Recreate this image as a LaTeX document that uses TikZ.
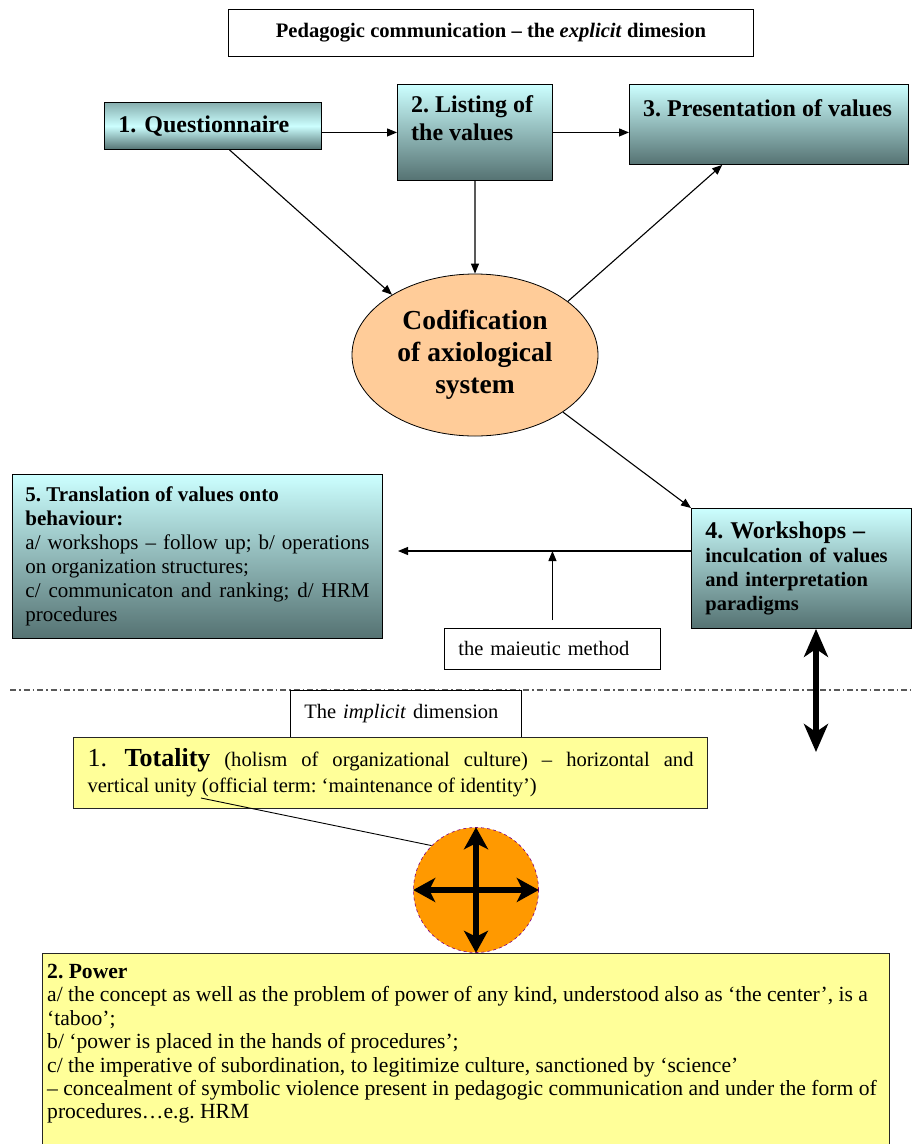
\documentclass[tikz,border=0pt]{standalone}
\usepackage{fontspec}
\setmainfont{Liberation Serif}
\usetikzlibrary{arrows.meta,calc,shapes.geometric}
\definecolor{lcyan}{HTML}{CCFFFF}
\definecolor{dteal}{HTML}{557272}
\definecolor{mteal}{HTML}{86AEAE}
\definecolor{peach}{HTML}{FFCC99}
\definecolor{lyellow}{HTML}{FFFF99}
\definecolor{orng}{HTML}{FF9900}
\definecolor{purp}{HTML}{800080}
\newcommand\fs[2]{\fontsize{#1}{#2}\selectfont}
\frenchspacing
\tikzset{
  gbox/.style={draw=black, line width=0.9pt, top color=lcyan, bottom color=dteal, inner sep=0pt, anchor=north west},
  gboxq/.style={draw=black, line width=0.9pt, top color=mteal, bottom color=dteal, middle color=lcyan, inner sep=0pt, anchor=north west},
  wbox/.style={draw=black, line width=0.9pt, fill=white, inner sep=0pt, anchor=north west},
  ybox/.style={draw=black!85, line width=1pt, fill=lyellow, inner sep=0pt, anchor=north west},
  txt/.style={anchor=north west, inner sep=0pt, align=left},
  arr/.style={-{Triangle[length=10pt,width=8pt]}, line width=1.1pt},
  bigarr/.style={{Stealth[length=28pt,width=24pt,inset=8pt]}-{Stealth[length=28pt,width=24pt,inset=8pt]}, line width=6pt},
  crossarr/.style={{Stealth[length=22pt,width=24pt,inset=6pt]}-{Stealth[length=22pt,width=24pt,inset=6pt]}, line width=5.5pt},
  dashdotline/.style={draw=black!65, line width=1.2pt, dash pattern=on 6pt off 3pt on 1.5pt off 3pt}
}
\begin{document}
\begin{tikzpicture}[x=1pt,y=-1pt]
\useasboundingbox (0,0) rectangle (911,1144);

% title
\node[wbox, minimum width=525, minimum height=47, font=\bfseries\fs{20.6}{24}] (title) at (228,9)
  {Pedagogic communication -- the \textit{explicit} dimesion};

% top row
\node[gboxq, minimum width=217, minimum height=47, text width=189, align=left, font=\bfseries\fs{24}{28}] (b1) at (104,102) {1. Questionnaire};
\node[gbox, minimum width=155, minimum height=96] (b2) at (397,84) {};
\node[txt, font=\bfseries\fs{24}{28}] (t2) at (411,95) {2. Listing of\\the values};
\node[gbox, minimum width=279, minimum height=80] (b3) at (629,84) {};
\node[txt, font=\bfseries\fs{24}{28}] (t3) at (643,99) {3. Presentation of values};

% ellipse
\node[ellipse, draw=black, line width=0.8pt, fill=peach, minimum width=246, minimum height=162, inner sep=0pt, align=center, font=\bfseries\fs{27.5}{32}] (cod) at (475,355) {Codification\\of axiological\\system};

% box 5 and box 4
\node[gbox, minimum width=370, minimum height=164, text width=344, align=justify, font=\fs{21}{24}] (b5) at (12,474)
  {{\bfseries 5. Translation of values onto}\\{\bfseries behaviour:}\\a/ workshops -- follow up; b/ operations on organization structures;\\c/ communicaton and ranking; d/ HRM procedures};
\node[gbox, minimum width=220, minimum height=120, text width=192, align=left, font=\bfseries\fs{20.5}{24}] (b4) at (691,508)
  {{\fs{24}{24}4. Workshops --}\\inculcation of values\\and interpretation\\paradigms};

\node[wbox, minimum width=216, minimum height=41, text width=188, align=left, font=\fs{20.5}{24}] (mai) at (444,628) {the maieutic method};

% arrows explicit part
\draw[arr] (b2.west -| b1.east) -- (b2.west);
\draw[arr] (b2.east) -- (b2.east -| b3.west);
\draw[arr] ($(b1.south west)!0.576!(b1.south east)$) -- (cod.144);
\draw[arr] (b2.south) -- (cod.north);
\draw[arr] (cod.30) -- ($(b3.south west)!0.333!(b3.south east)$);
\draw[arr] (cod.-33) -- (b4.north west);
\coordinate (e5) at (398,551);
\draw[arr] (e5 -| b4.west) -- (e5);
\draw[arr] ($(mai.north)+(0,-8)$) -- (mai.north |- e5);

% separator
\coordinate (sl) at (10,690);
\coordinate (sr) at (911,690);
\draw[dashdotline] (sl) -- (sr);

\coordinate (da) at (816,752);
\draw[bigarr] (b4.south -| da) -- (da);

% implicit part
\node[wbox, minimum width=231, minimum height=47, text width=203, align=left, font=\fs{20.5}{24}] (impl) at (290,690) {The \textit{implicit} dimension};
\node[ybox, minimum width=634, minimum height=71, text width=606, align=justify, font=\fs{20.6}{26}] (tot) at (73,737)
  {{\fs{26}{26}1. \textbf{Totality}} (holism of organizational culture) -- horizontal and\linebreak vertical unity (official term: ‘maintenance of identity’)};

\node[circle, minimum size=125, fill=orng, draw=purp, dashed, line width=0.6pt, inner sep=0pt] (circ) at (476,890) {};
\draw[crossarr] (circ.west) -- (circ.east);
\draw[crossarr] (circ.north) -- (circ.south);
\coordinate (tl) at (201,798);
\draw[line width=0.9pt] (tl) -- (circ.135);

\node[ybox, minimum width=847, minimum height=200] (pow) at (42,953) {};
\node[txt, font=\fs{21.6}{23.4}] (ptxt) at (47,964)
  {\textbf{2. Power}\\
   a/ the concept as well as the problem of power of any kind, understood also as ‘the center’, is a\\
   ‘taboo’;\\
   b/ ‘power is placed in the hands of procedures’;\\
   c/ the imperative of subordination, to legitimize culture, sanctioned by ‘science’\\
   -- concealment of symbolic violence present in pedagogic communication and under the form of\\
   procedures…e.g. HRM};
\end{tikzpicture}
\end{document}
